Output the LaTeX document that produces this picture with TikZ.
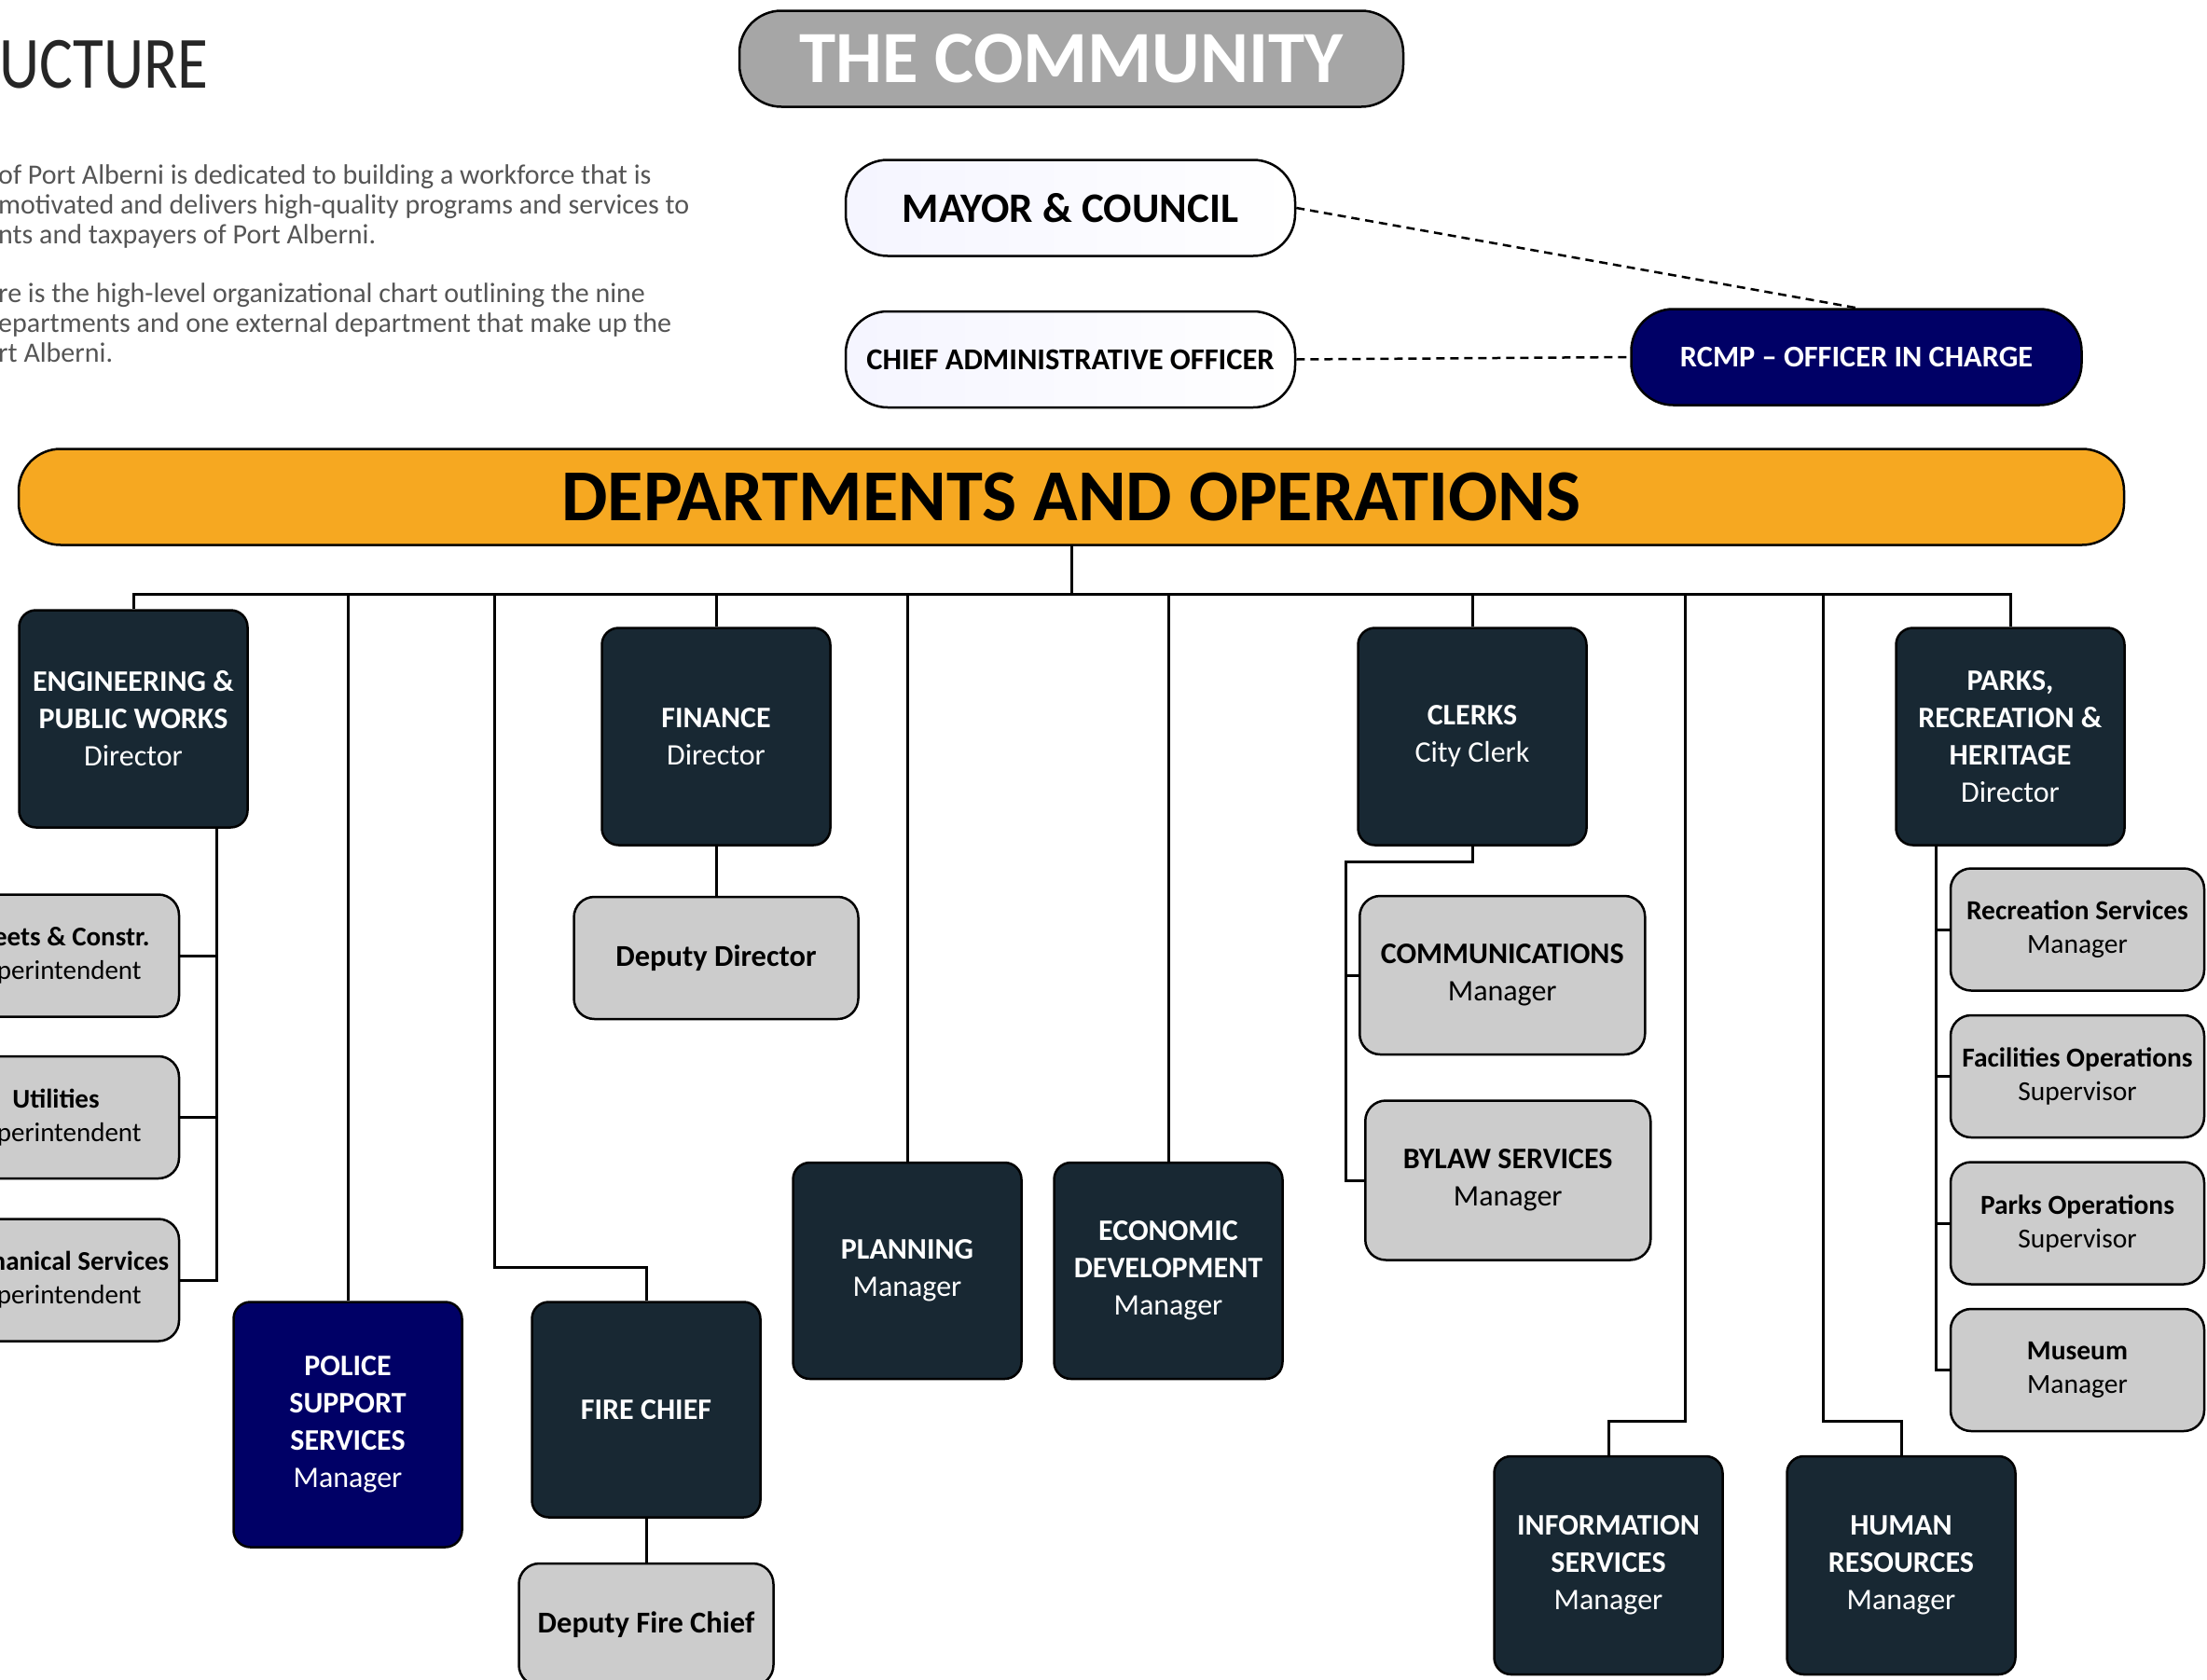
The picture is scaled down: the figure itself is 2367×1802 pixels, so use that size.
\documentclass[tikz,border=0pt]{standalone}
\usepackage{fontspec}
\setmainfont{Carlito}
\newfontfamily\lightfont{Carlito}[FakeStretch=0.85]
\usetikzlibrary{positioning}

\definecolor{deptdark}{HTML}{182833}
\definecolor{rcmpblue}{HTML}{000066}
\definecolor{subgray}{HTML}{CCCCCC}
\definecolor{commgray}{HTML}{A6A6A6}
\definecolor{deptorange}{HTML}{F6A821}
\definecolor{paratext}{HTML}{555555}

\newcommand{\unitpost}[2]{\textbf{#1}\\#2}

\tikzset{
    pill/.style={draw=black, line width=2.5pt, rounded corners=45pt, inner sep=0pt, minimum height=103pt},
    council/.style={pill, minimum width=482pt, left color=blue!4!white, right color=white},
    dept/.style={draw=black, line width=2.5pt, rounded corners=18pt, fill=deptdark, text=white, minimum width=245pt, minimum height=233pt, align=center, inner sep=0pt, font=\fontsize{32}{40}\selectfont},
    sub/.style={draw=black, line width=2.5pt, rounded corners=22pt, fill=subgray, minimum height=131pt, align=center, inner sep=0pt, font=\fontsize{29.5}{36}\selectfont},
    paragraph/.style={anchor=north west, align=left, inner sep=0pt, text=paratext, font=\fontsize{30}{32}\selectfont},
    link/.style={line width=3pt},
    dotlink/.style={line width=2.5pt, dash pattern=on 9pt off 6pt},
}

\begin{document}
\begin{tikzpicture}[x=1pt, y=-1pt]
                \useasboundingbox (0,0) rectangle (2367,1802);
                \clip (0,0) rectangle (2367,1802);
                % intro text
                \node[anchor=base west, inner sep=0pt, font=\lightfont\fontsize{79}{90}\selectfont, text=black!85] (title) at (-1,94) {UCTURE};
                \node[paragraph] (para1) at (-2,176) {of Port Alberni is dedicated to building a workforce that is\\motivated and delivers high-quality programs and services to\\nts and taxpayers of Port Alberni.};
                \node[paragraph, below right=37pt and 0pt of para1.south west] (para2) {re is the high-level organizational chart outlining the nine\\epartments and one external department that make up the\\rt Alberni.};
                % community and council
                \node[pill, fill=commgray, minimum width=712pt, text=white, font=\fontsize{79}{96}\selectfont\bfseries] (comm) at (1149,63) {THE COMMUNITY};
                \node[council, font=\fontsize{45}{50}\selectfont\bfseries] (mayor) at (1148,223) {MAYOR \& COUNCIL};
                \node[council, below=57pt of mayor, font=\fontsize{32.5}{36}\selectfont\bfseries] (cao) {CHIEF ADMINISTRATIVE OFFICER};
                \node[pill, fill=rcmpblue, text=white, minimum width=483pt, font=\fontsize{32.3}{36}\selectfont\bfseries] (rcmp) at (1991,383) {RCMP -- OFFICER IN CHARGE};
                \node[pill, fill=deptorange, minimum width=2258pt, font=\fontsize{78.5}{90}\selectfont\bfseries] (depts) at (1149,533) {DEPARTMENTS AND OPERATIONS};
                % departments
                \node[dept] (eng) at (143,771) {\textbf{ENGINEERING \&}\\\textbf{PUBLIC WORKS}\\Director};
                \node[dept, fill=rcmpblue, minimum height=263pt] (police) at (373,1528) {\textbf{POLICE}\\\textbf{SUPPORT}\\\textbf{SERVICES}\\Manager};
                \node[dept, minimum height=231pt] (fire) at (693,1512) {\textbf{FIRE CHIEF}};
                \node[dept] (fin) at (768,790) {\unitpost{FINANCE}{Director}};
                \node[dept, minimum height=232pt] (plan) at (973,1363) {\unitpost{PLANNING}{Manager}};
                \node[dept, minimum height=232pt] (econ) at (1253,1363) {\textbf{ECONOMIC}\\\textbf{DEVELOPMENT}\\Manager};
                \node[dept] (clerks) at (1579,790) {\unitpost{CLERKS}{City Clerk}};
                \node[dept, minimum height=234pt] (info) at (1725,1679) {\textbf{INFORMATION}\\\textbf{SERVICES}\\Manager};
                \node[dept, minimum height=234pt] (hr) at (2039,1679) {\textbf{HUMAN}\\\textbf{RESOURCES}\\Manager};
                \node[dept] (parks) at (2156,790) {\textbf{PARKS,}\\\textbf{RECREATION \&}\\\textbf{HERITAGE}\\Director};
                % sections
                \node[sub, minimum width=264pt, font=\fontsize{29}{36}\selectfont] (streets) at (60,1025) {\unitpost{Streets \& Constr.}{Superintendent}};
                \node[sub, minimum width=264pt, font=\fontsize{29}{36}\selectfont, below=40pt of streets] (util) {\unitpost{Utilities}{Superintendent}};
                \node[sub, minimum width=264pt, font=\fontsize{29}{36}\selectfont, below=41pt of util] (mech) {\unitpost{Mechanical Services}{Superintendent}};
                \node[sub, minimum width=305pt, font=\fontsize{32.5}{36}\selectfont\bfseries, below=53pt of fin] (depdir) {Deputy Director};
                \node[sub, minimum width=273pt, font=\fontsize{32.5}{36}\selectfont\bfseries, below=47pt of fire] (depfire) {Deputy Fire Chief};
                \node[sub, minimum width=306pt, minimum height=170pt, font=\fontsize{32}{40}\selectfont, below right=52pt and -122pt of clerks.south] (comms) {\unitpost{COMMUNICATIONS}{Manager}};
                \node[sub, minimum width=306pt, minimum height=171pt, font=\fontsize{32}{40}\selectfont, below right=47pt and 6pt of comms.south west] (bylaw) {\unitpost{BYLAW SERVICES}{Manager}};
                \node[sub, minimum width=272pt] (rec) at (2228,997) {\unitpost{Recreation Services}{Manager}};
                \node[sub, minimum width=272pt, below=24pt of rec] (fac) {\unitpost{Facilities Operations}{Supervisor}};
                \node[sub, minimum width=272pt, below=24pt of fac] (parkops) {\unitpost{Parks Operations}{Supervisor}};
                \node[sub, minimum width=272pt, below=24pt of parkops] (museum) {\unitpost{Museum}{Manager}};
                % reporting lines
                \coordinate (bus) at (1149,637);
                \coordinate (firetap) at (530,637);
                \coordinate (infotap) at (1807,637);
                \coordinate (hrtap) at (1955,637);
                \draw[dotlink] (mayor.east) -- (rcmp.north);
                \draw[dotlink] (cao.east) -- (rcmp.west);
                \draw[link] (depts.south) -- (bus);
                \draw[link] (eng.north) |- (bus) -| (parks.north);
                \draw[link] (police.north) -- (police.north |- bus);
                \draw[link] (fire.north) -- ++(0,-36) -| (firetap);
                \draw[link] (fin.north) -- (fin.north |- bus);
                \draw[link] (plan.north) -- (plan.north |- bus);
                \draw[link] (econ.north) -- (econ.north |- bus);
                \draw[link] (clerks.north) -- (clerks.north |- bus);
                \draw[link] (info.north) -- ++(0,-36) -| (infotap);
                \draw[link] (hr.north) -- ++(0,-36) -| (hrtap);
                \draw[link] (fin.south) -- (depdir.north);
                \draw[link] (fire.south) -- (depfire.north);
                % engineering sections
                \coordinate (espine) at ([xshift=89pt]eng.south);
                \draw[link] (espine) |- (mech.east);
                \draw[link] (streets.east) -- (streets.east -| espine);
                \draw[link] (util.east) -- (util.east -| espine);
                % clerks sections
                \coordinate (cspine) at (1443,924);
                \draw[link] (clerks.south) |- (cspine) |- (bylaw.west);
                \draw[link] (comms.west) -- (comms.west -| cspine);
                % parks sections
                \coordinate (pspine) at ([xshift=-80pt]parks.south);
                \draw[link] (pspine) |- (museum.west);
                \draw[link] (rec.west) -- (rec.west -| pspine);
                \draw[link] (fac.west) -- (fac.west -| pspine);
                \draw[link] (parkops.west) -- (parkops.west -| pspine);
\end{tikzpicture}
\end{document}
